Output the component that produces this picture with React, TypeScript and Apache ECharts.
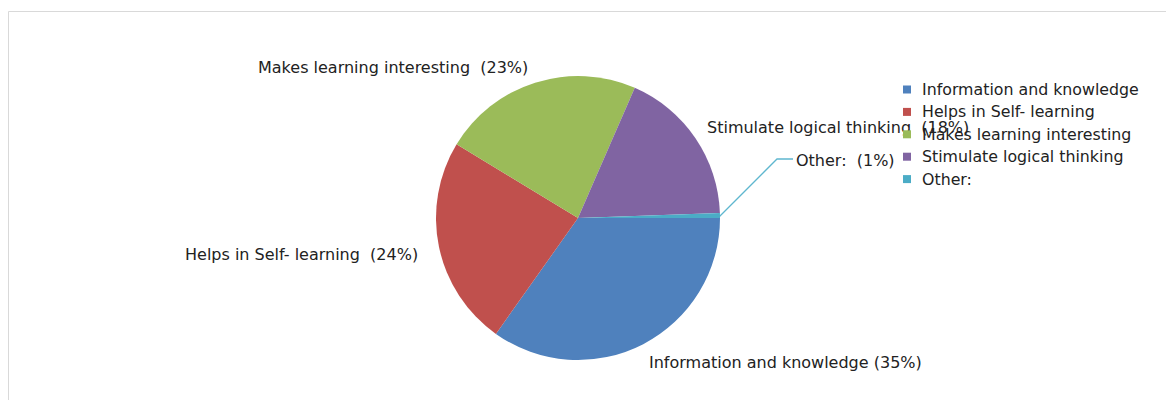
import React, { useEffect, useRef } from "react";
import * as echarts from "echarts";

const categories = [
  "Information and knowledge",
  "Helps in Self- learning",
  "Makes learning interesting",
  "Stimulate logical thinking",
  "Other:",
];
const values = [35, 24, 23, 18, 0.55];
const colors = ["#4F81BD", "#C0504D", "#9BBB59", "#8064A2", "#4BACC6"];
const labelSeparators = [" ", "  ", "  ", "  ", "  "];

const FONT = "'DejaVu Sans', Verdana, sans-serif";

export default function App() {
  const ref = useRef<HTMLDivElement>(null);
  useEffect(() => {
    if (!ref.current) return;
    const chart = echarts.init(ref.current, undefined, { renderer: "svg" });
    const labelPos: any[] = [
      { x: 649, y: 362 },
      { x: 185, y: 254 },
      { x: 258, y: 67 },
      { x: 707, y: 127 },
      { x: 796, y: 160, labelLinePoints: [[719, 217], [777, 159], [793, 159]] },
    ];
    chart.setOption({
      animation: false,
      backgroundColor: "#ffffff",
      color: colors,
      graphic: [
        {
          type: "rect",
          shape: { x: 8.5, y: 11.5, width: 1170, height: 400 },
          style: { fill: "none", stroke: "#d9d9d9", lineWidth: 1 },
          silent: true,
        },
      ],
      legend: {
        orient: "vertical",
        left: 898,
        top: 76.5,
        icon: "rect",
        itemWidth: 8,
        itemHeight: 8,
        itemGap: 6.4,
        data: categories,
        textStyle: {
          fontFamily: FONT,
          fontSize: 15.8,
          color: "#222",
          lineHeight: 16,
          padding: [0, 0, 0, 6],
        },
      },
      series: [
        {
          type: "pie",
          center: [578, 218],
          radius: 142,
          startAngle: 0,
          clockwise: true,
          avoidLabelOverlap: false,
          data: categories.map((c, i) => ({
            name: c,
            value: values[i],
            labelLine: { show: i === 4, lineStyle: { color: "#5FB7CF", width: 1.3 } },
          })),
          itemStyle: { borderWidth: 0 },
          label: {
            show: true,
            position: "outside",
            fontFamily: FONT,
            fontSize: 16,
            color: "#222",
            formatter: (p: any) =>
              `${p.name}${labelSeparators[p.dataIndex]}(${Math.ceil(p.percent)}%)`,
          },
          labelLine: { show: false, length: 10, length2: 10 },
          labelLayout: (p: any) => {
            const l = labelPos[p.dataIndex];
            return { ...l, align: "left", verticalAlign: "middle" };
          },
        },
      ],
    });
    return () => chart.dispose();
  }, []);
  return (
    <div
      ref={ref}
      style={{ position: "absolute", left: 0, top: 0, width: 1166, height: 400 }}
    />
  );
}
